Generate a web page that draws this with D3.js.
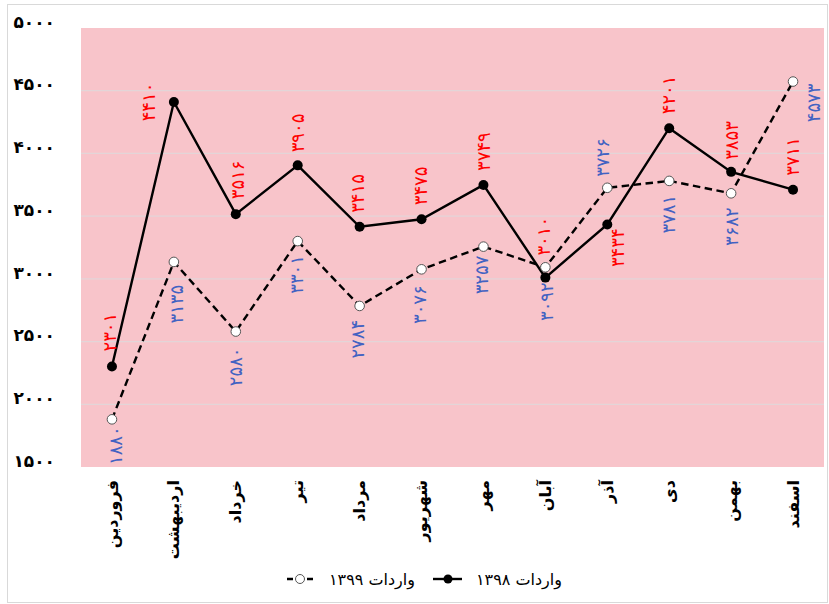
<!DOCTYPE html>
<html>
<head>
<meta charset="utf-8">
<script src="https://cdn.jsdelivr.net/npm/d3@7"></script>
<style>
  html, body { margin: 0; padding: 0; background: #fff; }
  svg { display: block; }
  text { font-family: "DejaVu Sans", sans-serif; }
</style>
</head>
<body>
<div id="chart"></div>
<script>
// ---- data ----
const categories = ["فروردین", "اردیبهشت", "خرداد", "تیر", "مرداد", "شهریور", "مهر", "آبان", "آذر", "دی", "بهمن", "اسفند"];
const imports1398 = [2301, 4410, 3516, 3905, 3415, 3475, 3749, 3010, 3434, 4201, 3853, 3711];
const imports1399 = [1880, 3135, 2580, 3301, 2784, 3076, 3257, 3092, 3726, 3781, 3682, 4573];
const yTicks = [1500, 2000, 2500, 3000, 3500, 4000, 4500, 5000];
const seriesNames = ["واردات ۱۳۹۸", "واردات ۱۳۹۹"];

// ---- label placement (dx, dy, anchor) ----
const place1398 = [[-2,-15,"start"],[-25,0,"middle"],[2,-15,"start"],[0,-13,"start"],[-2,-14,"start"],[-1,-14,"start"],[0,-14,"start"],[-2,-22,"start"],[10,4,"end"],[-1,-14,"start"],[0,-12,"start"],[-1,-14,"start"]];
const place1399 = [[4,7,"end"],[3,23,"end"],[0,16,"end"],[-1,14,"end"],[-2,14,"end"],[-2,16,"end"],[-2,9,"end"],[1,15,"end"],[-5,-11,"start"],[-1,14,"end"],[0,14,"end"],[20,2,"end"]];

const W = 829, H = 604;
const margin = {left: 81, right: 5, top: 28, bottom: 137};
const fa = v => String(v).replace(/[0-9]/g, d => "۰۱۲۳۴۵۶۷۸۹"[+d]);

const svg = d3.select("#chart").append("svg").attr("width", W).attr("height", H);

// outer border
svg.append("rect").attr("x", 7.5).attr("y", 4.5).attr("width", W - 9).attr("height", H - 6)
  .attr("fill", "#fff").attr("stroke", "#d9d9d9").attr("stroke-width", 1);

const x = d3.scaleBand().domain(categories).range([margin.left, W - margin.right]);
const y = d3.scaleLinear().domain([1500, 5000]).range([H - margin.bottom, margin.top]);

// plot background
svg.append("rect").attr("x", margin.left).attr("y", margin.top)
  .attr("width", W - margin.right - margin.left).attr("height", H - margin.bottom - margin.top)
  .attr("fill", "#f8c4ca");

// gridlines
svg.append("g").selectAll("line").data(yTicks.filter(t => t > 1500 && t < 5000)).join("line")
  .attr("x1", margin.left).attr("x2", W - margin.right)
  .attr("y1", d => y(d)).attr("y2", d => y(d))
  .attr("stroke", "#e3d5d8").attr("stroke-width", 1.2);

// y axis
const yAxis = d3.axisLeft(y).tickValues(yTicks).tickFormat(fa).tickSize(0).tickPadding(0);
const gy = svg.append("g").attr("transform", "translate(55,0)").call(yAxis);
gy.select(".domain").remove();
gy.selectAll("text").attr("font-size", 17).attr("font-weight", "bold").attr("fill", "#000")
  .attr("dy", "-0.05em").attr("font-family", "DejaVu Sans");

// x axis labels
const xAxis = d3.axisBottom(x).tickSize(0).tickPadding(0);
const gx = svg.append("g").attr("transform", `translate(0,${H - margin.bottom})`).call(xAxis);
gx.select(".domain").remove();
gx.selectAll("text")
  .attr("transform", "translate(0,13) rotate(-90)")
  .attr("text-anchor", "end").attr("dy", "0.35em").attr("y", 0).attr("x", 0)
  .attr("font-size", 16).attr("font-weight", "bold").attr("fill", "#000")
  .attr("font-family", "DejaVu Sans");

const cx = (d, i) => x(categories[i]) + x.bandwidth() / 2;

// lines
const line = d3.line().x((d, i) => cx(d, i)).y(d => y(d));
svg.append("path").datum(imports1399).attr("d", line).attr("fill", "none")
  .attr("stroke", "#000").attr("stroke-width", 2.4).attr("stroke-dasharray", "7.5,4.5");
svg.append("path").datum(imports1398).attr("d", line).attr("fill", "none")
  .attr("stroke", "#000").attr("stroke-width", 2.4);

// markers
svg.append("g").selectAll("circle").data(imports1399).join("circle")
  .attr("cx", cx).attr("cy", d => y(d)).attr("r", 4.8)
  .attr("fill", "#fff").attr("stroke", "#555").attr("stroke-width", 1);
svg.append("g").selectAll("circle").data(imports1398).join("circle")
  .attr("cx", cx).attr("cy", d => y(d)).attr("r", 5)
  .attr("fill", "#000");

// data labels
function labels(data, pl, color) {
  svg.append("g").selectAll("text").data(data).join("text")
    .attr("transform", (d, i) => `translate(${cx(d, i) + pl[i][0]},${y(d) + pl[i][1]}) rotate(-90)`)
    .attr("text-anchor", (d, i) => pl[i][2])
    .attr("dominant-baseline", "central")
    .attr("font-size", 18).attr("fill", color)
    .text(d => fa(d));
}
labels(imports1398, place1398, "#ff0000");
labels(imports1399, place1399, "#4262c2");

// legend
const ly = 579;
const lg = svg.append("g");
// 1399 item
lg.append("line").attr("x1", 287).attr("x2", 313).attr("y1", ly).attr("y2", ly)
  .attr("stroke", "#000").attr("stroke-width", 2.4).attr("stroke-dasharray", "6,14");
lg.append("circle").attr("cx", 300).attr("cy", ly).attr("r", 4.5)
  .attr("fill", "#fff").attr("stroke", "#555").attr("stroke-width", 1);
lg.append("text").attr("x", 415).attr("y", ly).attr("text-anchor", "end")
  .attr("dominant-baseline", "central").attr("font-size", 16).attr("fill", "#000")
  .text(seriesNames[1]);
// 1398 item
lg.append("line").attr("x1", 433).attr("x2", 462).attr("y1", ly).attr("y2", ly)
  .attr("stroke", "#000").attr("stroke-width", 2.4);
lg.append("circle").attr("cx", 448).attr("cy", ly).attr("r", 4.5).attr("fill", "#000");
lg.append("text").attr("x", 562).attr("y", ly).attr("text-anchor", "end")
  .attr("dominant-baseline", "central").attr("font-size", 16).attr("fill", "#000")
  .text(seriesNames[0]);
</script>
</body>
</html>
